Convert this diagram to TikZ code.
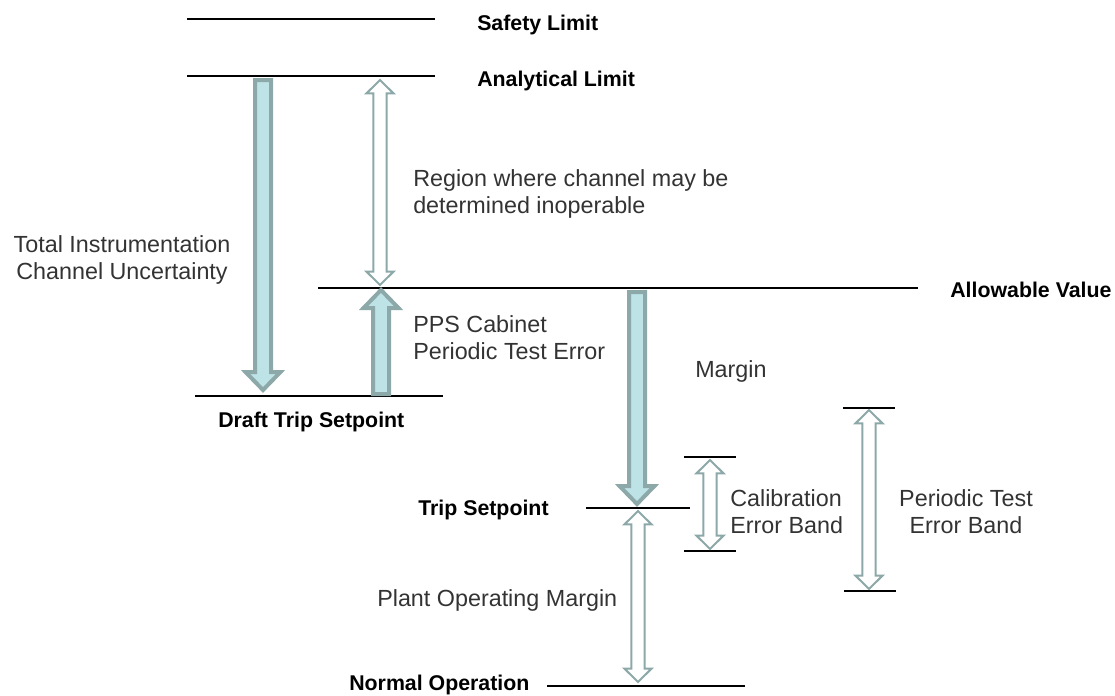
\documentclass[tikz,border=0pt]{standalone}
\usepackage{fontspec}
\setmainfont{Liberation Sans}
\usepackage{xcolor}
\usepackage{tikz}
\usetikzlibrary{calc}
\definecolor{tsedge}{HTML}{8DA8A8}
\definecolor{tsfill}{HTML}{BDE3E6}
\definecolor{tstext}{HTML}{333333}

\tikzset{
  level/.style={line width=1.1pt, black},
  levellabel/.style={font=\bfseries\fontsize{16}{19}\selectfont, text=black, inner sep=0pt},
  note/.style={font=\fontsize{17.5}{20.25}\selectfont, text=tstext, inner sep=0pt},
  thickarrow/.style={draw=tsedge, fill=tsfill, line width=3pt, line join=miter},
  bandarrow/.style={draw=tsedge, fill=white, line width=1.5pt, line join=miter},
}

% single block arrow: tail, tip
\newcommand{\errarrow}[2]{%
  \path[thickarrow] let \p1=(#1), \p2=(#2), \n1={((\y2)-(\y1))/abs((\y2)-(\y1))} in
    ({\x1-6pt},\y1) -- ({\x1-6pt},{\y2-(\n1)*13.5pt}) -- ({\x1-13.1pt},{\y2-(\n1)*13.5pt})
    -- (\x1,\y2) -- ({\x1+13.1pt},{\y2-(\n1)*13.5pt}) -- ({\x1+6pt},{\y2-(\n1)*13.5pt})
    -- ({\x1+6pt},\y1) -- cycle;}

% double block arrow: tip, tip
\newcommand{\bandspan}[2]{%
  \path[bandarrow] let \p1=(#1), \p2=(#2), \n1={((\y2)-(\y1))/abs((\y2)-(\y1))} in
    (\x1,\y1) -- ({\x1+10.1pt},{\y1+(\n1)*10pt}) -- ({\x1+4.9pt},{\y1+(\n1)*10pt})
    -- ({\x1+4.9pt},{\y2-(\n1)*10pt}) -- ({\x1+10.1pt},{\y2-(\n1)*10pt}) -- (\x1,\y2)
    -- ({\x1-10.1pt},{\y2-(\n1)*10pt}) -- ({\x1-4.9pt},{\y2-(\n1)*10pt})
    -- ({\x1-4.9pt},{\y1+(\n1)*10pt}) -- ({\x1-10.1pt},{\y1+(\n1)*10pt}) -- cycle;}

\begin{document}
\begin{tikzpicture}[x=0.75pt,y=-0.75pt]
  \useasboundingbox (0,0) rectangle (1115,696);

  % Levels
  \draw[level] (187,19) -- (435,19);
  \draw[level] (187,76) -- (435,76);
  \draw[level] (318,288) -- (918,288);
  \draw[level] (195,396) -- (443,396);
  \draw[level] (586,508) -- (690,508);
  \draw[level] (684,457) -- (736,457);
  \draw[level] (684,551) -- (736,551);
  \draw[level] (843,408) -- (895,408);
  \draw[level] (844,591) -- (896,591);
  \draw[level] (547,686) -- (745,686);

  \node[levellabel, anchor=base west] (safety) at (477,31) {Safety Limit};
  \node[levellabel, anchor=base west] (analytical) at (477,86) {Analytical Limit};
  \node[levellabel, anchor=base west] (allowable) at (950,297) {Allowable Value};
  \node[levellabel, anchor=base west] (draft) at (218,427) {Draft Trip Setpoint};
  \node[levellabel, anchor=base west] (trip) at (418,515) {Trip Setpoint};
  \node[levellabel, anchor=base west] (normal) at (349,690) {Normal Operation};

  % Arrow ends
  \coordinate (tcu-a) at (263,80);
  \coordinate (tcu-b) at (263,390);
  \coordinate (pps-a) at (381,394);
  \coordinate (pps-b) at (381,290);
  \coordinate (reg-a) at (380,80);
  \coordinate (reg-b) at (380,285);
  \coordinate (mrg-a) at (637,292);
  \coordinate (mrg-b) at (637,504);
  \coordinate (pom-a) at (638,511);
  \coordinate (pom-b) at (638,682);
  \coordinate (cal-a) at (710,460);
  \coordinate (cal-b) at (710,549);
  \coordinate (pte-a) at (869,410);
  \coordinate (pte-b) at (869,589);

  \errarrow{tcu-a}{tcu-b}
  \errarrow{pps-a}{pps-b}
  \errarrow{mrg-a}{mrg-b}
  \bandspan{reg-a}{reg-b}
  \bandspan{pom-a}{pom-b}
  \bandspan{cal-a}{cal-b}
  \bandspan{pte-a}{pte-b}

  % Notes
  \node[note, anchor=north, align=center] (tcu) at (122,235) {Total Instrumentation\\Channel Uncertainty};
  \node[note, anchor=north west, align=left] (region) at (413,169) {Region where channel may be\\determined inoperable};
  \node[note, anchor=north west, align=left] (pps) at (413,315) {PPS Cabinet\\Periodic Test Error};
  \node[note, anchor=base west] (margin) at (695,377) {Margin};
  \node[note, anchor=north west, align=left] (calib) at (730,489) {Calibration\\Error Band};
  \node[note, anchor=north, align=center] (ptest) at (966,489) {Periodic Test\\Error Band};
  \node[note, anchor=base west] (plant) at (377,606) {Plant Operating Margin};
\end{tikzpicture}
\end{document}
